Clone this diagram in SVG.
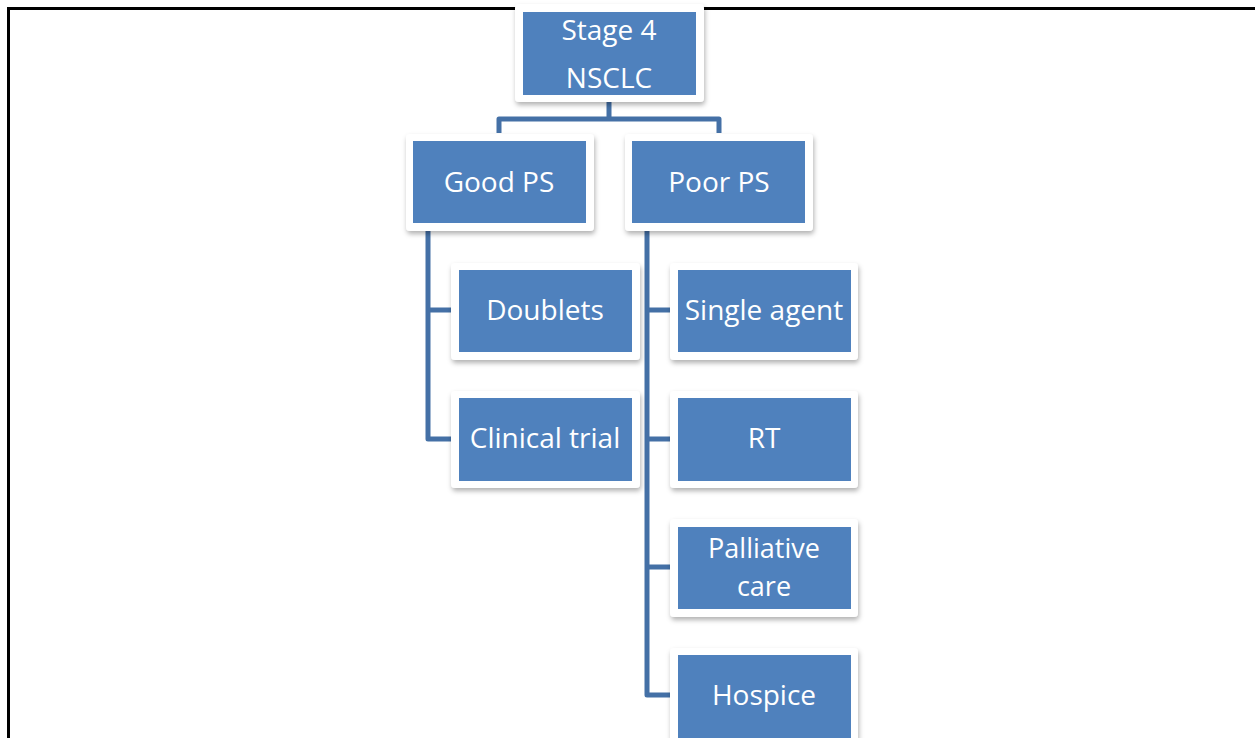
<svg xmlns="http://www.w3.org/2000/svg" width="1255" height="738" viewBox="0 0 1255 738">
<style>
.outer{fill:#ffffff;filter:url(#sh)}
.inner{fill:#4F81BD}
.t{font-family:"Open Sans","Liberation Sans",sans-serif;font-size:28px;fill:#ffffff;text-anchor:middle}
.s{font-size:27px}
.c{fill:none;stroke:#4470A6;stroke-width:5;stroke-linejoin:round}
</style>
<defs>
<filter id="sh" x="-10%" y="-10%" width="125%" height="130%">
<feDropShadow dx="1" dy="3" stdDeviation="2.5" flood-color="#000000" flood-opacity="0.3"/>
</filter>
</defs>
<rect x="0" y="0" width="1255" height="738" fill="#ffffff"/>
<path d="M8.5,738 V8.5 H1255" fill="none" stroke="#000000" stroke-width="3"/>
<g id="connectors">
<path class="c" d="M609,102 V119 M499,133 V119 H719 V133"/>
<path class="c" d="M428,231 V439 H451 M428,310 H451"/>
<path class="c" d="M647,231 V695 H670 M647,310 H670 M647,439 H670 M647,567 H670"/>
</g>
<g id="n-stage4">
<rect class="outer" x="515" y="4" width="189" height="98" rx="4"/>
<rect class="inner" x="523" y="12" width="173" height="83"/>
<text class="t" x="609" y="40">Stage 4</text>
<text class="t" x="609" y="88">NSCLC</text>
</g>
<g id="n-good">
<rect class="outer" x="406" y="134" width="188" height="97" rx="4"/>
<rect class="inner" x="413" y="141" width="173" height="82"/>
<text class="t" x="499" y="192">Good PS</text>
</g>
<g id="n-poor">
<rect class="outer" x="625" y="134" width="188" height="97" rx="4"/>
<rect class="inner" x="632" y="141" width="173" height="82"/>
<text class="t" x="719" y="192">Poor PS</text>
</g>
<g id="n-doublets">
<rect class="outer" x="451" y="263" width="189" height="97" rx="4"/>
<rect class="inner" x="459" y="270" width="173" height="82"/>
<text class="t" x="545" y="320">Doublets</text>
</g>
<g id="n-trial">
<rect class="outer" x="451" y="391" width="189" height="97" rx="4"/>
<rect class="inner" x="459" y="398" width="173" height="83"/>
<text class="t" x="545" y="448">Clinical trial</text>
</g>
<g id="n-single">
<rect class="outer" x="670" y="263" width="188" height="97" rx="4"/>
<rect class="inner" x="678" y="270" width="173" height="82"/>
<text class="t" x="764" y="320">Single agent</text>
</g>
<g id="n-rt">
<rect class="outer" x="670" y="391" width="188" height="97" rx="4"/>
<rect class="inner" x="678" y="398" width="173" height="83"/>
<text class="t" x="764" y="448">RT</text>
</g>
<g id="n-palliative">
<rect class="outer" x="670" y="519" width="188" height="98" rx="4"/>
<rect class="inner" x="678" y="527" width="173" height="82"/>
<text class="t s" x="764" y="558">Palliative</text>
<text class="t s" x="764" y="596">care</text>
</g>
<g id="n-hospice">
<rect class="outer" x="670" y="648" width="188" height="100" rx="4"/>
<rect class="inner" x="678" y="655" width="173" height="90"/>
<text class="t" x="764" y="705">Hospice</text>
</g>
</svg>
